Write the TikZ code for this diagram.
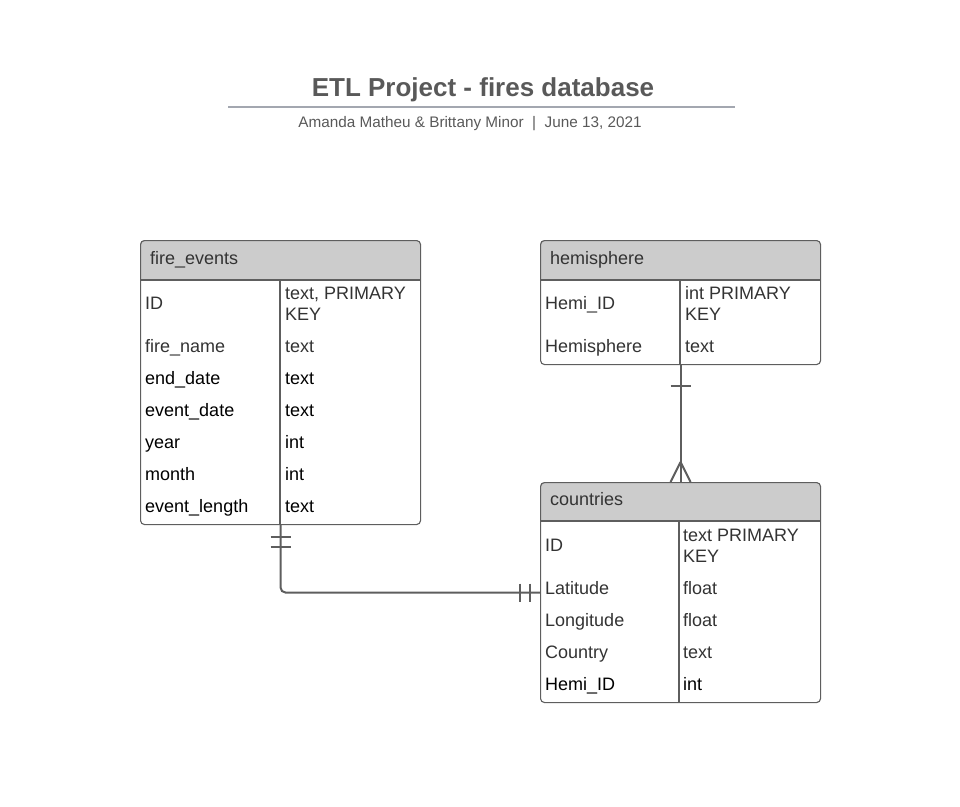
\documentclass[tikz,border=0pt]{standalone}
\usepackage{fontspec}
\setmainfont{Liberation Sans}
\usepackage{tikz}
\usetikzlibrary{positioning}
\definecolor{inkgray}{HTML}{333333}
\definecolor{titlegray}{HTML}{595959}
\definecolor{rulegray}{HTML}{A3A7B0}
\definecolor{hdrgray}{HTML}{CCCCCC}
\definecolor{linegray}{HTML}{5E5E5E}
\tikzset{
  tblbox/.style={draw=linegray,line width=1.1pt,rounded corners=4pt,inner sep=0pt,anchor=north west},
  hdrfill/.style={fill=hdrgray,rounded corners=4pt},
  field/.style={anchor=base west,inner sep=0pt,text=inkgray,font=\fontsize{18}{21}\selectfont,align=left},
  fieldk/.style={field,text=black},
  rel/.style={draw=linegray,line width=2pt,rounded corners=5pt},
  tick/.style={draw=linegray,line width=2pt}
}

\begin{document}
\begin{tikzpicture}[x=1pt,y=-1pt]
\useasboundingbox (0,0) rectangle (960,806);
% title
\node[font=\bfseries\fontsize{26}{30}\selectfont,text=titlegray] (title) at (483,90) {ETL Project - fires database};
\draw[rulegray,line width=1.6pt] (228,107) -- (735,107);
\node[font=\fontsize{15.3}{18}\selectfont,text=titlegray] (subtitle) at (470,124) {Amanda Matheu \& Brittany Minor ~|~ June 13, 2021};

% fire_events
\path[hdrfill] (140,280) -- (140,240) -- (420,240) -- (420,280);
\node[tblbox,minimum width=280pt,minimum height=284pt] (fire) at (140,240) {};
\draw[linegray,line width=1.1pt] (140,280) -- (420,280);
\draw[linegray,line width=1.1pt] (280,280) -- (280,524);
\node[field] (fire-h) at (150,264.5) {fire\_events};
\node[field] (fire-id) at (145,309.5) {ID};
\node[field] (fire-idt) at (285,320.5) {text, PRIMARY\\KEY};
\node[field] (fire-name) at (145,352.5) {fire\_name};
\node[field] (fire-namet) at (285,352.5) {text};
\node[fieldk] (fire-end) at (145,384.5) {end\_date};
\node[fieldk] (fire-endt) at (285,384.5) {text};
\node[fieldk] (fire-date) at (145,416.5) {event\_date};
\node[fieldk] (fire-datet) at (285,416.5) {text};
\node[fieldk] (fire-year) at (145,448.5) {year};
\node[fieldk] (fire-yeart) at (285,448.5) {int};
\node[fieldk] (fire-month) at (145,480.5) {month};
\node[fieldk] (fire-montht) at (285,480.5) {int};
\node[fieldk] (fire-len) at (145,512.5) {event\_length};
\node[fieldk] (fire-lent) at (285,512.5) {text};

% hemisphere
\path[hdrfill] (540,280) -- (540,240) -- (820,240) -- (820,280);
\node[tblbox,minimum width=280pt,minimum height=124pt] (hemi) at (540,240) {};
\draw[linegray,line width=1.1pt] (540,280) -- (820,280);
\draw[linegray,line width=1.1pt] (680,280) -- (680,364);
\node[field] (hemi-h) at (550,264.5) {hemisphere};
\node[field] (hemi-id) at (545,309.5) {Hemi\_ID};
\node[field] (hemi-idt) at (685,320.5) {int PRIMARY\\KEY};
\node[field] (hemi-name) at (545,352.5) {Hemisphere};
\node[field] (hemi-namet) at (685,352.5) {text};

% countries
\path[hdrfill] (540,521) -- (540,482) -- (820,482) -- (820,521);
\node[tblbox,minimum width=280pt,minimum height=220pt] (ctry) at (540,482) {};
\draw[linegray,line width=1.1pt] (540,521) -- (820,521);
\draw[linegray,line width=1.1pt] (679,521) -- (679,702);
\node[field] (ctry-h) at (550,505.5) {countries};
\node[field] (ctry-id) at (545,551.5) {ID};
\node[field] (ctry-idt) at (683,562.5) {text PRIMARY\\KEY};
\node[field] (ctry-lat) at (545,594.5) {Latitude};
\node[field] (ctry-latt) at (683,594.5) {float};
\node[field] (ctry-lon) at (545,626.5) {Longitude};
\node[field] (ctry-lont) at (683,626.5) {float};
\node[field] (ctry-name) at (545,658.5) {Country};
\node[field] (ctry-namet) at (683,658.5) {text};
\node[fieldk] (ctry-hemi) at (545,690.5) {Hemi\_ID};
\node[fieldk] (ctry-hemit) at (683,690.5) {int};

% relations
\draw[rel] (fire.south) |- (ctry.west);
\draw[tick] ([xshift=-10pt,yshift=-12pt]fire.south) -- ++(20,0);
\draw[tick] ([xshift=-10pt,yshift=-22pt]fire.south) -- ++(20,0);
\draw[tick] ([xshift=-10pt,yshift=9pt]ctry.west) -- ++(0,18);
\draw[tick] ([xshift=-20pt,yshift=9pt]ctry.west) -- ++(0,18);

\draw[rel] (hemi.south) -- (ctry.north);
\draw[tick] ([xshift=-10pt,yshift=-21pt]hemi.south) -- ++(20,0);
\draw[tick] ([yshift=20pt]ctry.north) -- ([xshift=-10pt]ctry.north);
\draw[tick] ([yshift=20pt]ctry.north) -- ([xshift=10pt]ctry.north);
\end{tikzpicture}
\end{document}
